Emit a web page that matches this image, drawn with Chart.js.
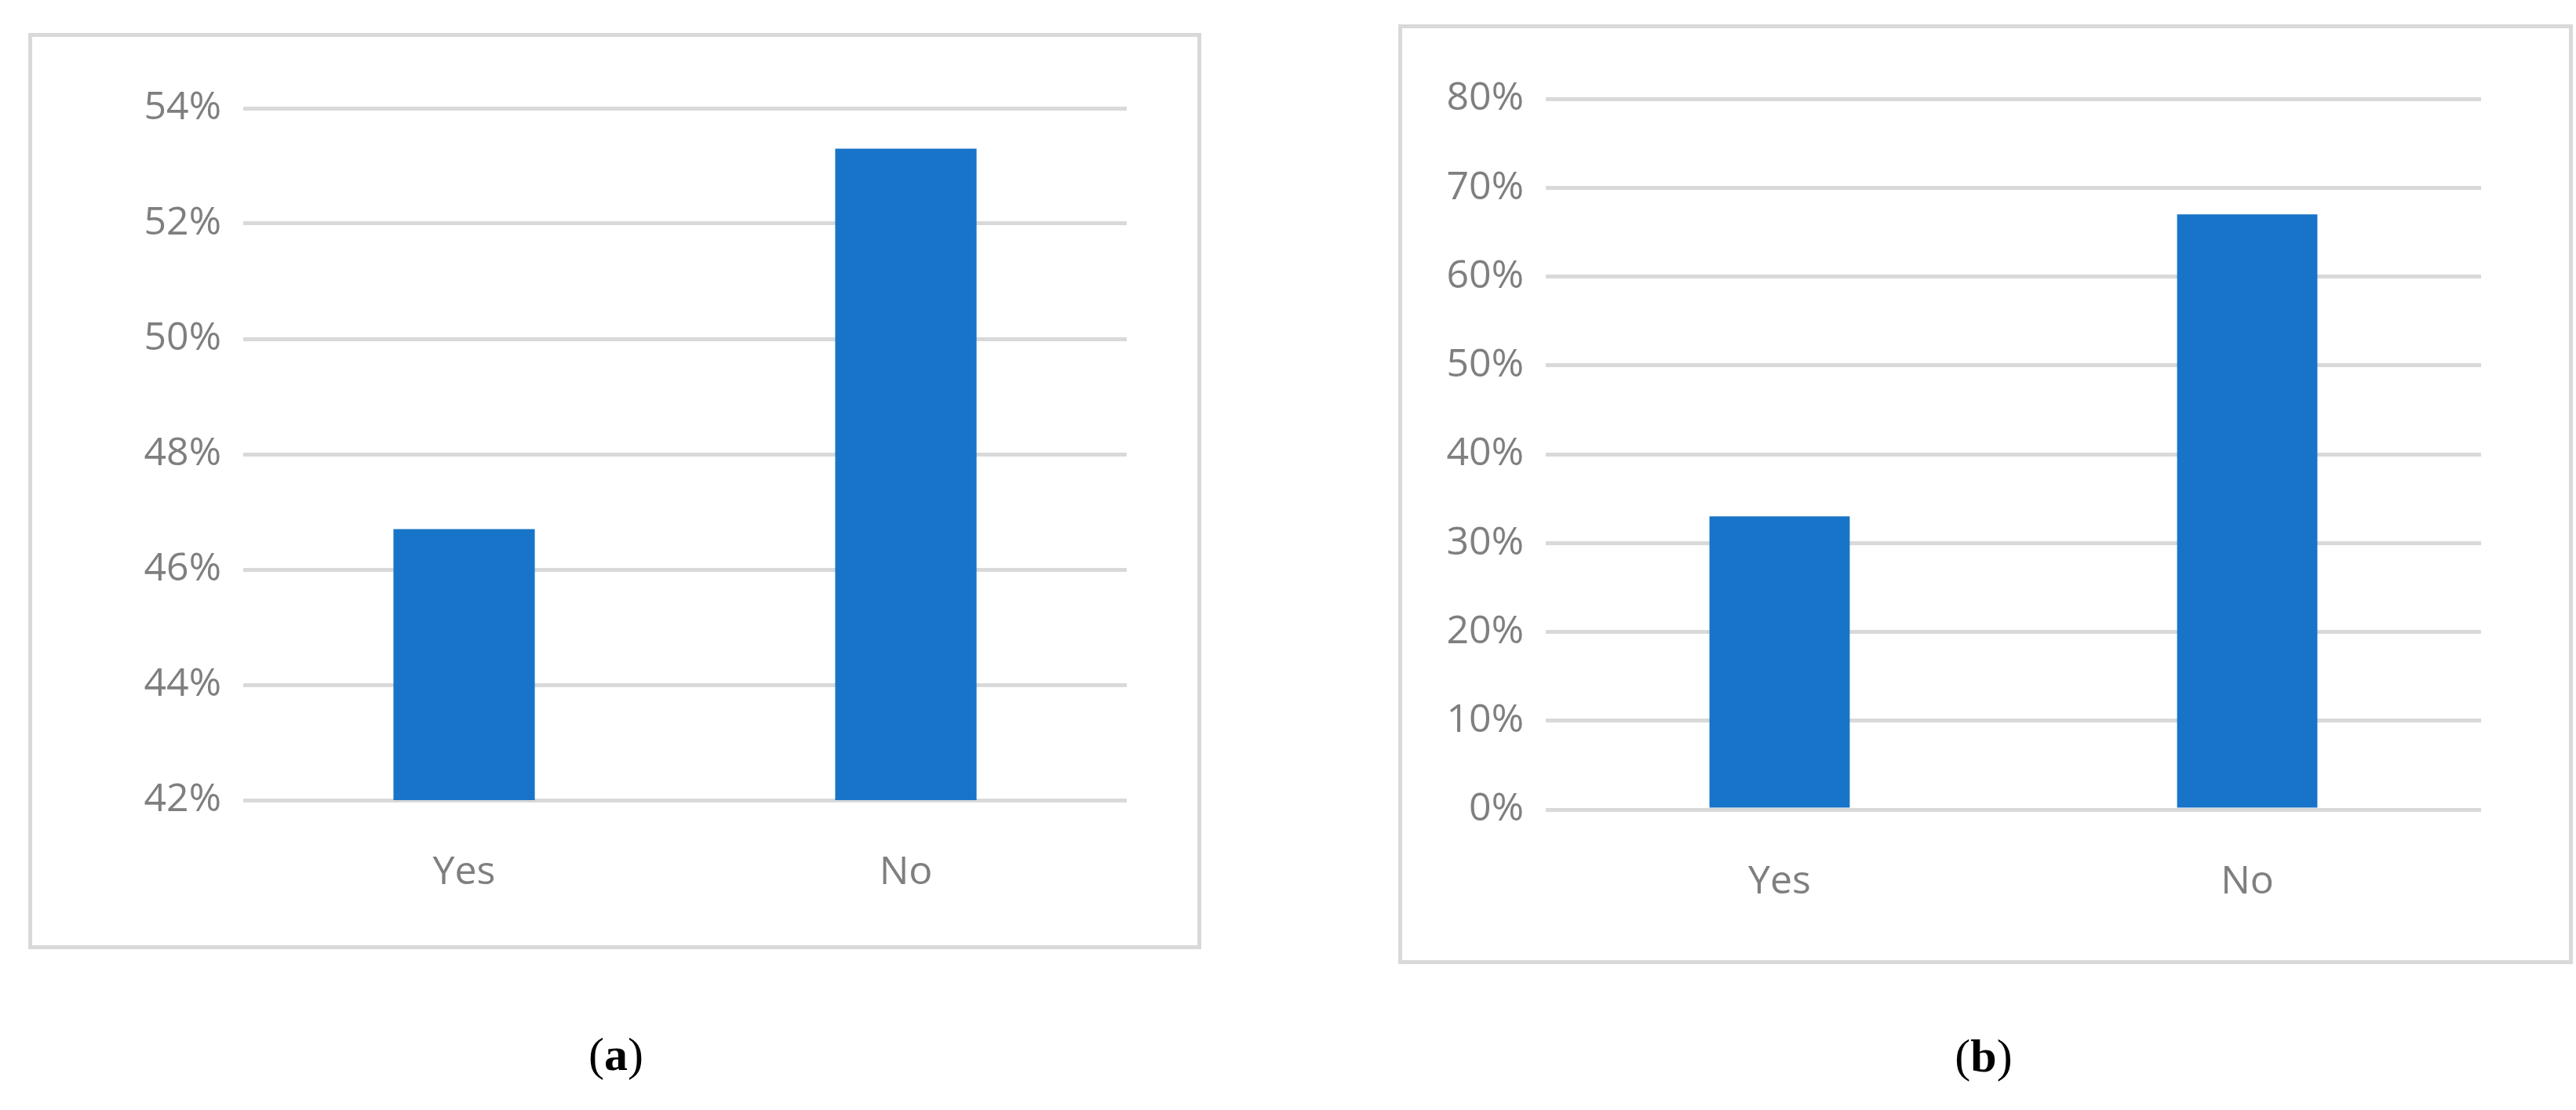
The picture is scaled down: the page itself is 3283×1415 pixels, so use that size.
<!DOCTYPE html>
<html>
<head>
<meta charset="utf-8">
<script src="https://cdn.jsdelivr.net/npm/chart.js@4/dist/chart.umd.min.js"></script>
<style>
  body { margin: 0; width: 3283px; height: 1415px; background: #fff; position: relative; overflow: hidden; }
  .box { position: absolute; box-sizing: border-box; border: 5px solid #d9d9d9; }
  .wrap { position: absolute; }
  .cap { position: absolute; font-family: "Liberation Serif", serif; font-size: 60px; color: #000; transform: translateX(-50%); }
</style>
</head>
<body>
<div class="box" style="left:36px;top:42px;width:1495px;height:1168px"></div>
<div class="wrap" style="left:36px;top:42px;width:1495px;height:1168px"><canvas id="chart-a"></canvas></div>
<div class="box" style="left:1782px;top:31px;width:1497px;height:1198px"></div>
<div class="wrap" style="left:1782px;top:31px;width:1497px;height:1198px"><canvas id="chart-b"></canvas></div>
<div class="cap" style="left:785px;top:1310px">(<b>a</b>)</div>
<div class="cap" style="left:2528px;top:1312px">(<b>b</b>)</div>
<script>
const categories = ["Yes", "No"];
const valuesA = [46.7, 53.3];
const valuesB = [33, 67];
const ticksA = { min: 42, max: 54, step: 2 };
const ticksB = { min: 0, max: 80, step: 10 };

function makeChart(id, values, range, pad, barPct) {
  const ctx = document.getElementById(id).getContext("2d");
  return new Chart(ctx, {
    type: "bar",
    data: {
      labels: categories,
      datasets: [{ data: values, backgroundColor: "#1874c8", barPercentage: barPct, categoryPercentage: 1 }],
    },
    options: {
      responsive: true,
      maintainAspectRatio: false,
      animation: false,
      plugins: { legend: { display: false }, tooltip: { enabled: false } },
      layout: { padding: { left: 0, right: pad.right, top: pad.top, bottom: 0 } },
      scales: {
        x: {
          grid: { display: false },
          border: { display: false },
          ticks: { color: "#7f7f7f", font: { family: "Open Sans", size: 50 }, padding: 55 },
          afterFit: (s) => { s.height = pad.bottom; },
        },
        y: {
          min: range.min,
          max: range.max,
          grid: { color: "#d9d9d9", lineWidth: 5, drawTicks: false },
          border: { display: false },
          ticks: {
            stepSize: range.step,
            color: "#7f7f7f",
            font: { family: "Open Sans", size: 50 },
            padding: 28,
            callback: (v) => v + "%",
          },
          afterFit: (s) => { s.width = pad.left; },
        },
      },
    },
  });
}

makeChart("chart-a", valuesA, ticksA, { left: 274, right: 95, top: 96, bottom: 190 }, 0.32);
makeChart("chart-b", valuesB, ticksB, { left: 188, right: 117, top: 95, bottom: 197 }, 0.3);
</script>
</body>
</html>
